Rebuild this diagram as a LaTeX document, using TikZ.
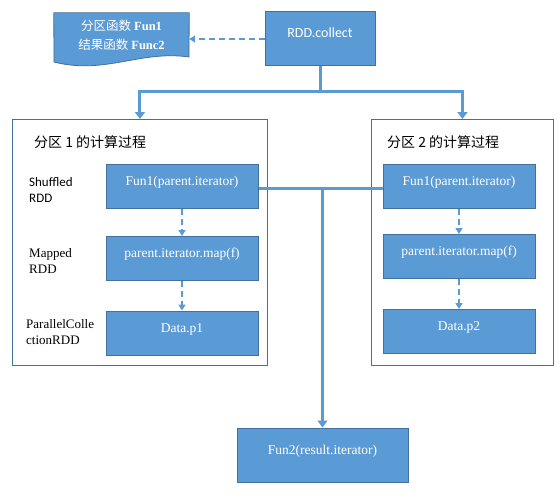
\documentclass[tikz,border=0pt]{standalone}
\usepackage{fontspec}
\setmainfont{Liberation Serif}
\newfontfamily\cjk{Noto Sans CJK SC}
\newfontfamily\calib{Carlito}
\usetikzlibrary{arrows.meta}
\definecolor{bfill}{HTML}{5B9BD5}
\definecolor{bdraw}{HTML}{41719C}
\begin{document}
\begin{tikzpicture}[x=1pt,y=-1pt,
  box/.style={draw=bdraw, line width=1pt, fill=bfill, text=white,
    font=\fontsize{13.5}{16}\selectfont, inner sep=0pt,
    minimum width=152pt, minimum height=44pt, text height=9.5pt, text depth=11.5pt},
  part/.style={draw=bdraw, line width=0.9pt, anchor=north west, inner sep=0pt},
  side/.style={anchor=west, align=left, inner sep=0pt, font=\fontsize{13}{16}\selectfont},
  ttl/.style={anchor=west, inner sep=0pt, font=\cjk\fontsize{14}{16}\selectfont},
  thicklink/.style={draw=bfill, line width=3pt},
  thickarrow/.style={thicklink, -{Triangle[width=10pt,length=7pt]}},
  dasharrow/.style={draw=bfill, line width=2pt, dash pattern=on 6pt off 4pt,
    -{Triangle[width=7pt,length=6pt]}}]
\useasboundingbox (0,0) rectangle (560,503);

% document shape
\node[inner sep=0pt, minimum width=135pt, minimum height=44pt] (doc) at (121.5,35) {};
\fill[bfill, draw=bdraw, line width=0.8pt] (doc.north west) -- (doc.north east) -- (189,57)
  .. controls (140,50) and (105,75) .. (54,62) -- cycle;
\node[inner sep=0pt, align=center, text=white, font=\fontsize{12.5}{19}\selectfont] (doctext) at (doc.center)
  {{\cjk 分区函数} \textbf{Fun1}\\{\cjk 结果函数} \textbf{Func2}};

% top node
\node[box, minimum width=110pt, minimum height=54pt, font=\calib\fontsize{14}{16}\selectfont] (collect) at (320,39) {RDD.collect};

% partitions
\node[part, minimum width=255pt, minimum height=246pt] (p1) at (12,119) {};
\node[part, minimum width=182pt, minimum height=246pt] (p2) at (371,119) {};
\node[ttl] (t1) at (34,142) {分区 1 的计算过程};
\node[ttl] (t2) at (387,142) {分区 2 的计算过程};

% left column
\node[box] (f1) at (182,186.5) {Fun1(parent.iterator)};
\node[box] (m1) at (182,258.5) {parent.iterator.map(f)};
\node[box] (d1) at (182,333) {Data.p1};
\node[side, font=\calib\fontsize{13}{16}\selectfont] (s1) at (29,189.5) {Shuffled\\RDD};
\node[side] (s2) at (29,261) {Mapped\\RDD};
\node[side] (s3) at (26,332) {ParallelColle\\ctionRDD};

% right column
\node[box] (f2) at (459,186.5) {Fun1(parent.iterator)};
\node[box] (m2) at (459,256.5) {parent.iterator.map(f)};
\node[box] (d2) at (459,331.5) {Data.p2};

% bottom
\node[box, minimum width=171pt, minimum height=54pt] (fun2) at (322.5,455) {Fun2(result.iterator)};

% connectors
\draw[dasharrow] (collect.west) -- (doc.east |- collect.west);
\coordinate (j) at (320,92);
\draw[thicklink] (collect.south) -- (j);
\draw[thickarrow] (j) -| (p1.north);
\draw[thickarrow] (j) -| (p2.north);
\coordinate (a) at ([yshift=-1.5pt]f1.east);
\coordinate (b) at (f2.west |- a);
\draw[thicklink] (a) -- (b);
\coordinate (k) at (fun2.north |- a);
\draw[thickarrow] (k) -- (fun2.north);
\draw[dasharrow] (f1) -- (m1);
\draw[dasharrow] (m1) -- (d1);
\draw[dasharrow] (f2) -- (m2);
\draw[dasharrow] (m2) -- (d2);
\end{tikzpicture}
\end{document}
